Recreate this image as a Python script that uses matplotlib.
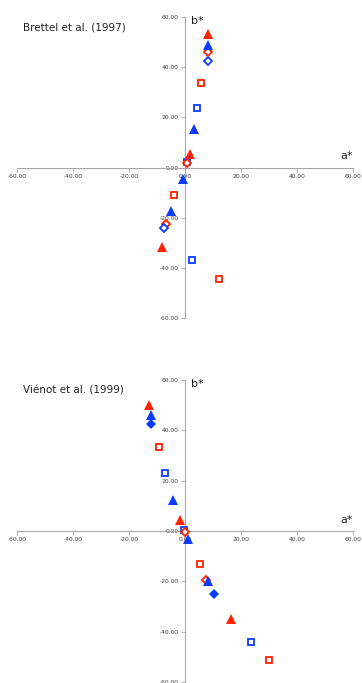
import matplotlib
matplotlib.use("Agg")
import matplotlib.pyplot as plt
from matplotlib.ticker import FormatStrFormatter

RED = "#ff2200"
BLUE = "#0a3cff"

# Brettel et al. (1997) - a*, b* per series
brettel = {
    "red_tri": ([8.2, 1.7, -8.3], [53.2, 5.5, -31.5]),
    "blue_tri": ([8.2, 3.2, -0.6, -5.1], [48.9, 15.5, -4.5, -17.4]),
    "red_dia": ([8.2, -6.9, 0.6], [46.0, -22.6, 2.0]),
    "blue_dia": ([8.2, -7.4], [42.5, -24.1]),
    "red_sq": ([5.7, -3.8, 12.3], [33.8, -10.9, -44.5]),
    "blue_sq": ([4.3, 0.7, 2.5], [23.8, 2.3, -36.8]),
}

# Vienot et al. (1999)
vienot = {
    "red_tri": ([-12.9, -1.7, 16.5], [50.2, 4.4, -34.9]),
    "blue_tri": ([-12.3, -4.3, 1.2, 8.2], [46.0, 12.5, -3.1, -19.8]),
    "red_dia": ([7.6, 0.1], [-19.4, -0.5]),
    "blue_dia": ([-12.3, 10.5], [42.7, -25.0]),
    "red_sq": ([-9.2, 5.5, 30.1], [33.4, -13.3, -51.1]),
    "blue_sq": ([-7.0, -0.2, 23.7], [22.9, 0.6, -44.0]),
}

ticks = [-60, -40, -20, 0, 20, 40, 60]

styles = {
    "red_dia": dict(marker="D", ms=4.2, mfc="white", mec=RED, mew=1.3),
    "blue_dia": dict(marker="D", ms=4.2, mfc="white", mec=BLUE, mew=1.3),
    "red_sq": dict(marker="s", ms=5, mfc="white", mec=RED, mew=1.3),
    "blue_sq": dict(marker="s", ms=5, mfc="white", mec=BLUE, mew=1.3),
    "red_tri": dict(marker="^", ms=6.5, mfc=RED, mec=RED, mew=0),
    "blue_tri": dict(marker="^", ms=6.5, mfc=BLUE, mec=BLUE, mew=0),
}
order = ["red_sq", "blue_sq", "red_dia", "blue_dia", "blue_tri", "red_tri"]


def draw_panel(ax, data, title, filled_blue_dia=False):
    for key in order:
        xs, ys = data[key]
        st = dict(styles[key])
        if key == "blue_dia" and filled_blue_dia:
            st.update(mfc=BLUE, ms=5, mew=0)
        ax.plot(xs, ys, linestyle="none", **st, zorder=3)
    ax.set_xlim(-60, 60)
    ax.set_ylim(-60, 60)
    ax.spines["left"].set_position(("data", 0))
    ax.spines["bottom"].set_position(("data", 0))
    ax.spines["right"].set_visible(False)
    ax.spines["top"].set_visible(False)
    for s in ("left", "bottom"):
        ax.spines[s].set_color("#a6a6a6")
        ax.spines[s].set_linewidth(0.8)
    ax.set_xticks(ticks)
    ax.set_yticks(ticks)
    ax.xaxis.set_major_formatter(FormatStrFormatter("%.2f"))
    ax.yaxis.set_major_formatter(FormatStrFormatter("%.2f"))
    ax.tick_params(labelsize=4.3, colors="#404040", length=3, width=0.6,
                   direction="out", pad=1.5)
    ax.tick_params(axis="both", color="#a6a6a6")
    ax.text(-58, 56, title, fontsize=7.5, color="#222222", va="center")
    ax.text(2, 58.5, "b*", fontsize=8, color="#222222", va="center")
    ax.text(60, 2.5, "a*", fontsize=8, color="#222222", ha="right", va="bottom")


fig = plt.figure(figsize=(3.62, 6.83), dpi=100)
ax1 = fig.add_axes([0.047, 0.534, 0.928, 0.441])
ax2 = fig.add_axes([0.047, 0.0015, 0.928, 0.442])
draw_panel(ax1, brettel, "Brettel et al. (1997)")
draw_panel(ax2, vienot, "Viénot et al. (1999)", filled_blue_dia=True)

fig.savefig("out.png", dpi=100)
